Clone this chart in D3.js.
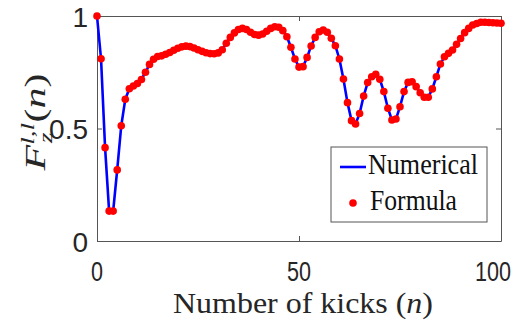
<!DOCTYPE html>
<html>
<head>
<meta charset="utf-8">
<script src="https://cdn.jsdelivr.net/npm/d3@7"></script>
<style>
  body { margin: 0; background: #fff; }
  svg { display: block; }
</style>
</head>
<body>
<svg id="chart" width="521" height="329"></svg>
<script>
// fidelity F_z^{l,l}(n), n = 0..100
let kicks = d3.range(0, 101);
let fidelity = [
  1.0, 0.81, 0.415, 0.133, 0.133, 0.316, 0.512, 0.63, 0.677, 0.689,
  0.70, 0.718, 0.75, 0.785, 0.808, 0.82, 0.823, 0.83, 0.838, 0.848,
  0.857, 0.863, 0.866, 0.864, 0.858, 0.85, 0.843, 0.837, 0.833, 0.832,
  0.836, 0.85, 0.879, 0.905, 0.925, 0.94, 0.945, 0.94, 0.928, 0.918,
  0.915, 0.92, 0.932, 0.945, 0.952, 0.95, 0.935, 0.908, 0.861, 0.809,
  0.773, 0.775, 0.816, 0.867, 0.905, 0.93, 0.938, 0.928, 0.901, 0.868,
  0.809, 0.72, 0.615, 0.535, 0.52, 0.567, 0.644, 0.704, 0.73, 0.741,
  0.719, 0.664, 0.59, 0.538, 0.542, 0.597, 0.664, 0.705, 0.708, 0.686,
  0.659, 0.639, 0.639, 0.676, 0.73, 0.787, 0.819, 0.834, 0.849, 0.874,
  0.90, 0.926, 0.945, 0.96, 0.967, 0.972, 0.972, 0.971, 0.97, 0.969,
  0.968
];
let xTicks = [0, 50, 100];
let yTicks = [0, 0.5, 1];
let yTickLabels = ["0", "0.5", "1"];
let legendNames = ["Numerical", "Formula"];

let svg = d3.select("#chart");
let plotLeft = 97, plotRight = 501, plotTop = 16, plotBottom = 241;

let x = d3.scaleLinear().domain([0, 100]).range([plotLeft, plotRight]);
let y = d3.scaleLinear().domain([0, 1]).range([plotBottom, plotTop]);

let axisColor = "#555";
let tickFont = "'Liberation Sans', Arial, sans-serif";
let serif = "'Liberation Serif', 'Times New Roman', serif";

function styleAxis(g) {
  g.selectAll("line, path").attr("stroke", axisColor);
}

// axes box with mirrored inward ticks
svg.append("g")
  .attr("transform", "translate(0," + plotBottom + ")")
  .call(d3.axisBottom(x).tickValues(xTicks).tickSizeInner(-5).tickSizeOuter(0).tickFormat(""))
  .call(styleAxis);
svg.append("g")
  .attr("transform", "translate(0," + plotTop + ")")
  .call(d3.axisTop(x).tickValues(xTicks).tickSizeInner(-5).tickSizeOuter(0).tickFormat(""))
  .call(styleAxis);
svg.append("g")
  .attr("transform", "translate(" + plotLeft + ",0)")
  .call(d3.axisLeft(y).tickValues(yTicks).tickSizeInner(-5).tickSizeOuter(0).tickFormat(""))
  .call(styleAxis);
svg.append("g")
  .attr("transform", "translate(" + plotRight + ",0)")
  .call(d3.axisRight(y).tickValues(yTicks).tickSizeInner(-5).tickSizeOuter(0).tickFormat(""))
  .call(styleAxis);

// tick labels (last one kept inside the picture edge)
svg.append("g")
  .selectAll("text")
  .data(xTicks)
  .enter()
  .append("text")
  .attr("x", function (d) { return Math.min(x(d), 493); })
  .attr("y", 281)
  .attr("text-anchor", "middle")
  .attr("textLength", function (d) { return String(d).length * 12; })
  .attr("lengthAdjust", "spacingAndGlyphs")
  .style("font-family", tickFont)
  .style("font-size", "28px")
  .style("fill", "#262626")
  .text(function (d) { return d; });

svg.append("g")
  .selectAll("text")
  .data(yTicks)
  .enter()
  .append("text")
  .attr("x", 88)
  .attr("y", function (d) { return y(d) + 10.5; })
  .attr("text-anchor", "end")
  .style("font-family", tickFont)
  .style("font-size", "28px")
  .style("fill", "#262626")
  .text(function (d, i) { return yTickLabels[i]; });

// numerical curve and formula points
let line = d3.line()
  .x(function (d, i) { return x(kicks[i]); })
  .y(function (d) { return y(d); });

svg.append("path")
  .datum(fidelity)
  .attr("d", line)
  .attr("fill", "none")
  .attr("stroke", "#0000ff")
  .attr("stroke-width", 2.6);

svg.append("g")
  .selectAll("circle")
  .data(fidelity)
  .enter()
  .append("circle")
  .attr("cx", function (d, i) { return x(kicks[i]); })
  .attr("cy", function (d) { return y(d); })
  .attr("r", 3.8)
  .style("fill", "#ff0000");

// x label
svg.append("text")
  .attr("x", 303)
  .attr("y", 313)
  .attr("text-anchor", "middle")
  .attr("textLength", 260)
  .attr("lengthAdjust", "spacingAndGlyphs")
  .style("font-family", serif)
  .style("font-size", "30px")
  .style("fill", "#262626")
  .html("Number of kicks (<tspan font-style='italic'>n</tspan>)");

// y label
let ylab = svg.append("text")
  .attr("transform", "translate(45,122) scale(0.7,1) rotate(-90)")
  .attr("text-anchor", "middle")
  .style("font-family", serif)
  .style("font-size", "42px")
  .style("fill", "#262626");
ylab.append("tspan").style("font-style", "italic").text("F");
ylab.append("tspan").style("font-style", "italic").style("font-size", "27px").attr("dy", -16).text("l,l");
ylab.append("tspan").style("font-style", "italic").style("font-size", "27px").attr("dx", -20).attr("dy", 26).text("z");
ylab.append("tspan").attr("dx", 10).attr("dy", -10).text("(");
ylab.append("tspan").style("font-style", "italic").text("n");
ylab.append("tspan").text(")");

// legend
let legend = svg.append("g");
legend.append("rect")
  .attr("x", 331)
  .attr("y", 147)
  .attr("width", 156)
  .attr("height", 75)
  .attr("fill", "#fff")
  .attr("stroke", axisColor)
  .attr("stroke-width", 1);

legend.append("line")
  .attr("x1", 340).attr("x2", 366)
  .attr("y1", 167).attr("y2", 167)
  .attr("stroke", "#0000ff")
  .attr("stroke-width", 2.6);

legend.append("circle")
  .attr("cx", 353)
  .attr("cy", 203)
  .attr("r", 3.8)
  .style("fill", "#ff0000");

legend.selectAll("text")
  .data(legendNames)
  .enter()
  .append("text")
  .attr("x", function (d, i) { return i == 0 ? 368 : 370; })
  .attr("y", function (d, i) { return i == 0 ? 173.5 : 209.5; })
  .attr("textLength", function (d, i) { return i == 0 ? 110 : 87; })
  .attr("lengthAdjust", "spacingAndGlyphs")
  .style("font-family", serif)
  .style("font-size", "30px")
  .style("fill", "#111")
  .text(function (d) { return d; });
</script>
</body>
</html>
